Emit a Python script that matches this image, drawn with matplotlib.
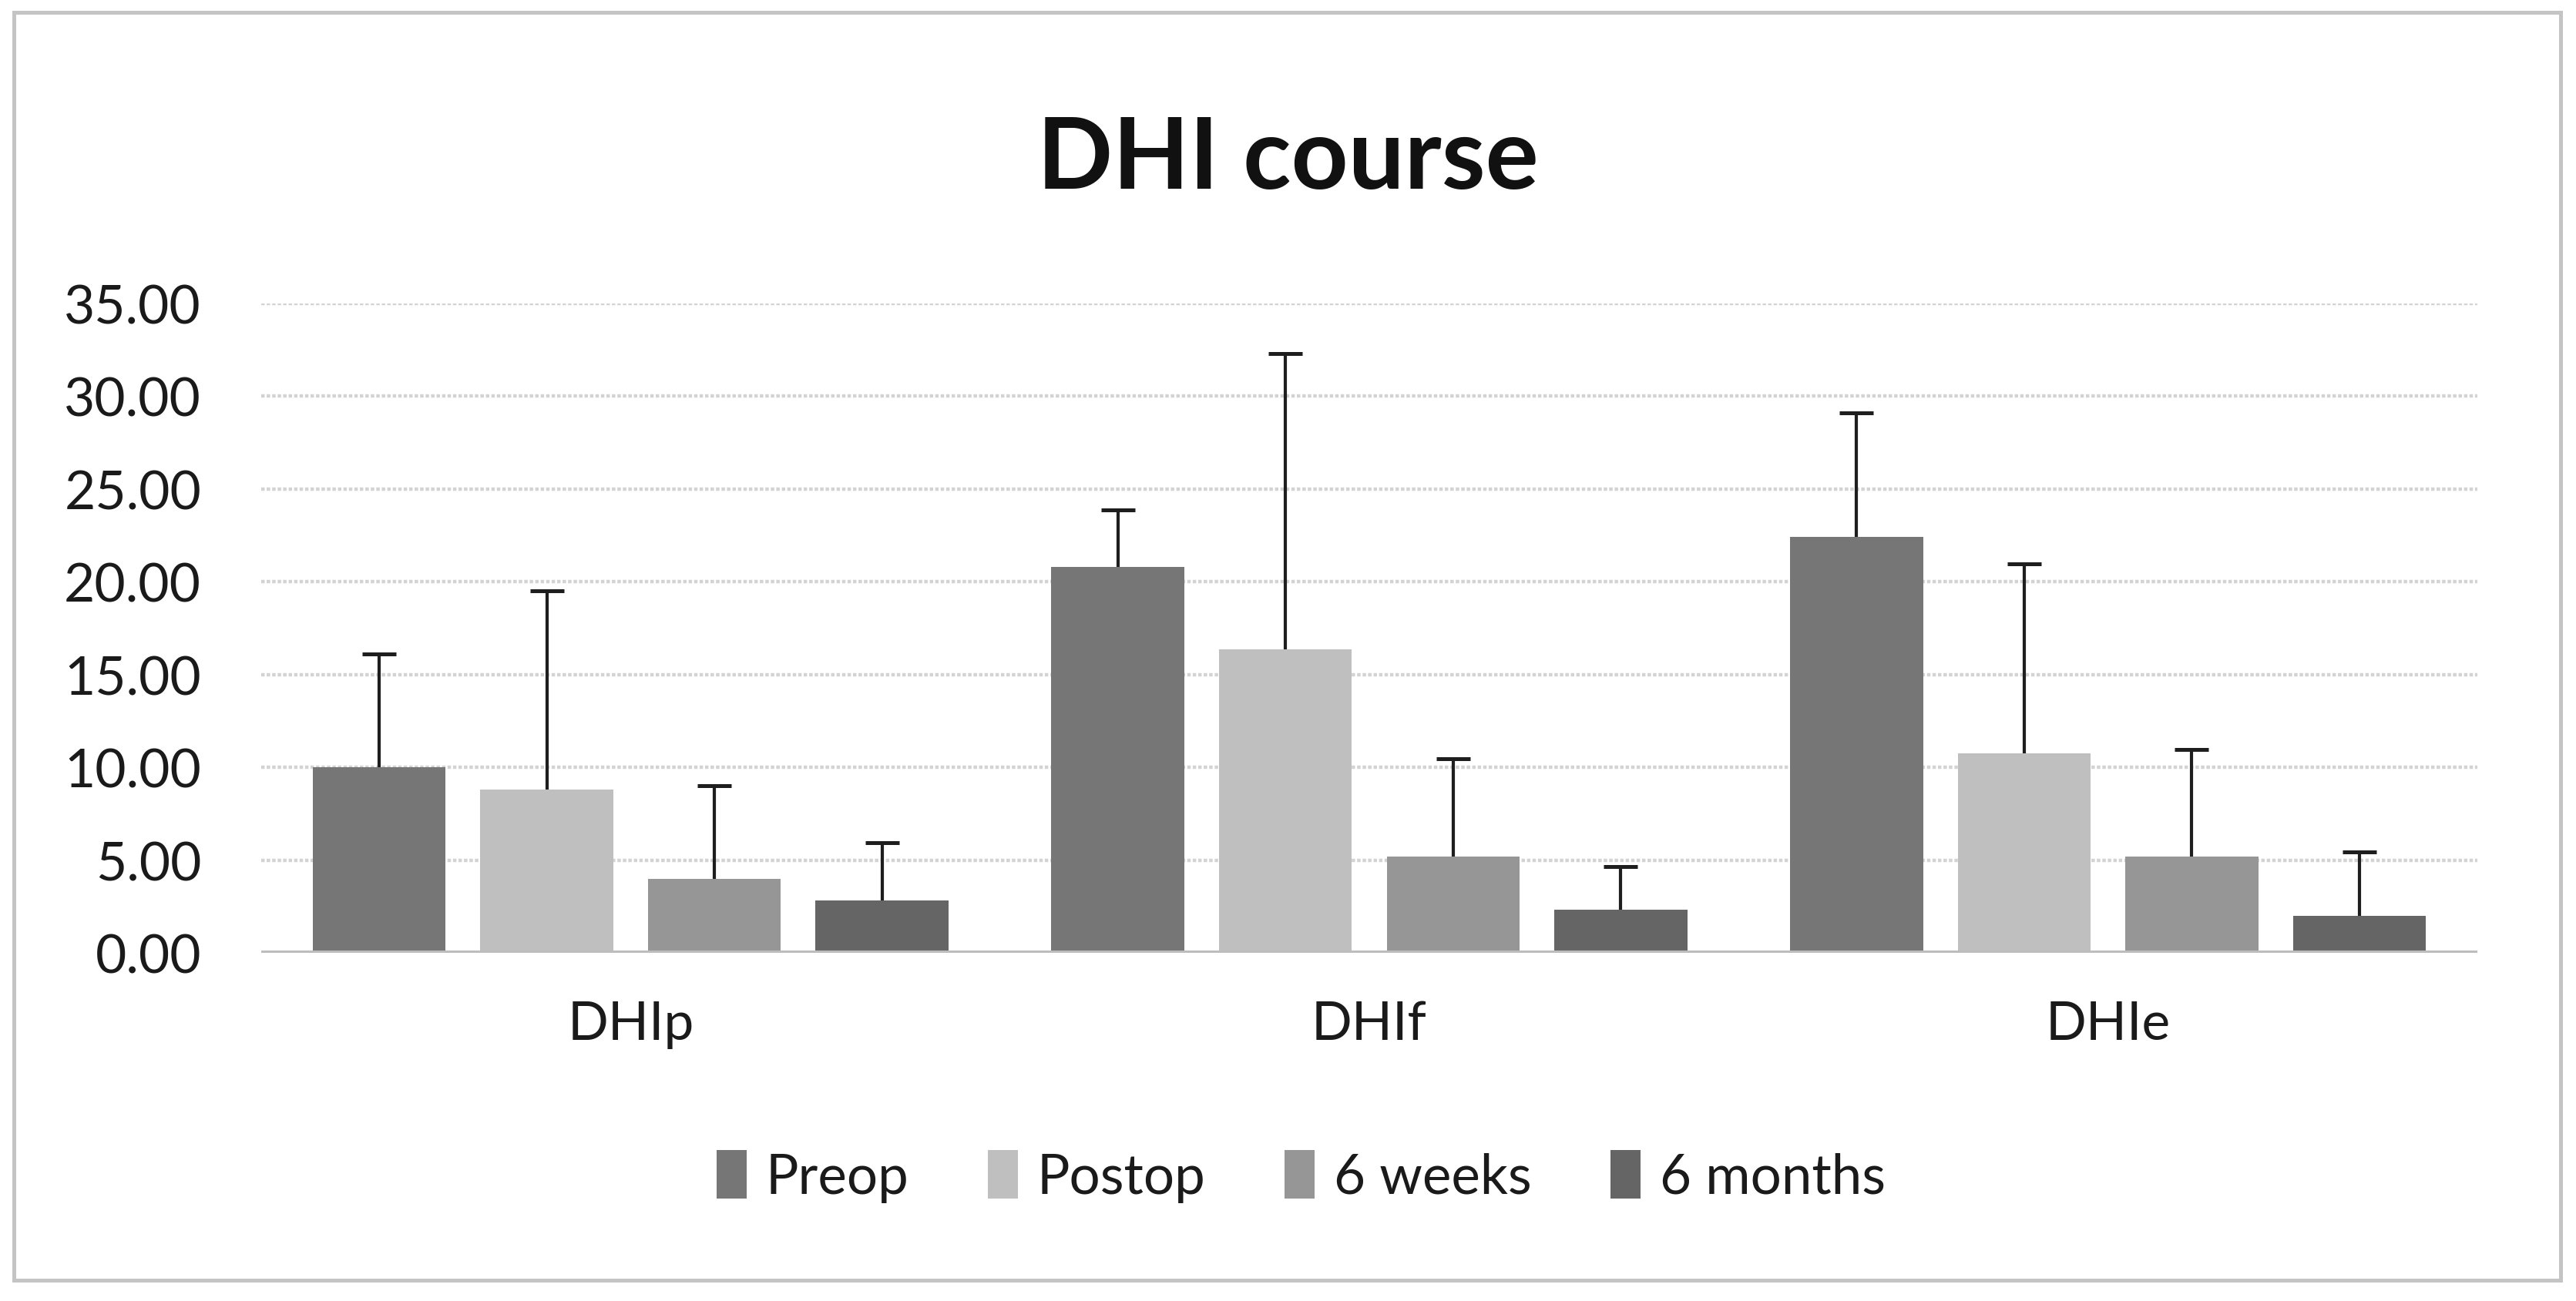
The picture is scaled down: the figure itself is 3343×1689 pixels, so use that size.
import matplotlib
matplotlib.use("Agg")
import matplotlib.pyplot as plt
import numpy as np
from matplotlib.patches import Rectangle

categories = ["DHIp", "DHIf", "DHIe"]
series = ["Preop", "Postop", "6 weeks", "6 months"]
means = {
    "Preop":    [10.0, 20.78, 22.41],
    "Postop":   [8.81, 16.37, 10.75],
    "6 weeks":  [3.98, 5.21, 5.21],
    "6 months": [2.82, 2.32, 2.01],
}
sds = {
    "Preop":    [6.12, 3.09, 6.68],
    "Postop":   [10.71, 15.94, 10.23],
    "6 weeks":  [5.04, 5.24, 5.74],
    "6 months": [3.10, 2.31, 3.43],
}
colors = ["#767676", "#bfbfbf", "#969696", "#656565"]
yticks = [0, 5, 10, 15, 20, 25, 30, 35]

plt.rcParams['font.family'] = ['Lato', 'DejaVu Sans']

W, H, dpi = 3343, 1690, 200
fig = plt.figure(figsize=(W / dpi, H / dpi), dpi=dpi)
fig.patch.set_facecolor("white")

# outer border
fig.patches.append(Rectangle((18 / W, 1 - 1663 / H), (3323 - 18) / W, (1663 - 17) / H,
                             transform=fig.transFigure, fill=False,
                             edgecolor="#c4c4c4", linewidth=1.8, zorder=0))

ax = fig.add_axes([339 / W, 1 - 1238 / H, (3215 - 339) / W, (1238 - 395) / H])
x = np.arange(len(categories))
pitch = 0.227
width = 0.18
for i, s in enumerate(series):
    pos = x + (i - 1.5) * pitch
    ax.bar(pos, means[s], width=width, color=colors[i], zorder=3, label=s)
    eb = ax.errorbar(pos, means[s], yerr=[np.zeros(len(categories)), sds[s]], fmt="none",
                     ecolor="#1e1e1e", elinewidth=1.5, capsize=8, capthick=1.8, zorder=4)
    caps = eb[1]
    if len(caps) == 2:
        caps[0].set_visible(False)

ax.set_xlim(-0.5, 2.5)
ax.set_ylim(0, 35)
ax.set_yticks(yticks)
ax.set_yticklabels([f"{v:.2f}" for v in yticks], fontsize=25, color="#1a1a1a")
ax.set_xticks(x)
ax.set_xticklabels(categories, fontsize=25, color="#1a1a1a")
ax.tick_params(axis="both", length=0)
ax.tick_params(axis="y", pad=28)
ax.tick_params(axis="x", pad=22)
for sp in ax.spines.values():
    sp.set_visible(False)
for v in yticks[1:]:
    ax.axhline(v, color="#d3d3d3", linewidth=1.6, linestyle=(0, (1, 0.6)), zorder=1)
ax.axhline(0, color="#bdbdbd", linewidth=2.2, zorder=5)

fig.text(0.5, 1 - 208 / H, "DHI course", ha="center", va="center",
         fontsize=46.5, fontweight="bold", color="#111111")

handles, labels = ax.get_legend_handles_labels()
leg = fig.legend(handles, labels, loc="center", bbox_to_anchor=(0.505, 1 - 1528 / H),
                 ncol=4, frameon=False, fontsize=25.5, handlelength=0.55, handleheight=1.0,
                 handletextpad=0.35, columnspacing=1.45)
for t in leg.get_texts():
    t.set_color("#1a1a1a")

fig.savefig("out.png", dpi=dpi, facecolor="white")
